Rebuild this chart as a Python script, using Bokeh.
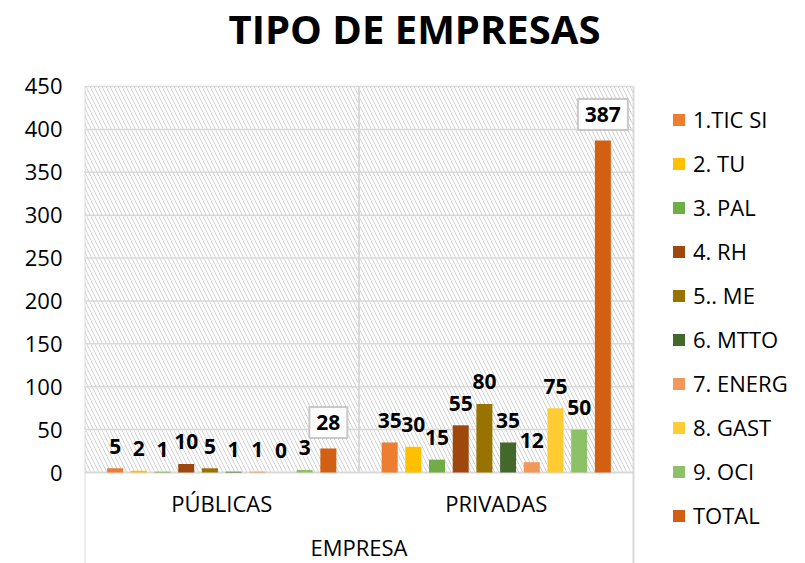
from bokeh.plotting import figure
from bokeh.models import (Range1d, FixedTicker, BoxAnnotation, Legend, LegendItem,
                          ColumnDataSource)
from bokeh.core.properties import value
from bokeh.embed import file_html
from bokeh.resources import INLINE

# ---------------- data ----------------
groups = ["PÚBLICAS", "PRIVADAS"]
series = ["1.TIC SI", "2. TU", "3. PAL", "4. RH", "5.. ME", "6. MTTO",
          "7. ENERG", "8. GAST", "9. OCI", "TOTAL"]
publicas = [5, 2, 1, 10, 5, 1, 1, 0, 3, 28]
privadas = [35, 30, 15, 55, 80, 35, 12, 75, 50, 387]
colors = ["#ED7D31", "#FFC000", "#70AD47", "#9E480E", "#997300", "#43682B",
          "#F1975A", "#FFCD33", "#8CC168", "#D26012"]
y_ticks = [0, 50, 100, 150, 200, 250, 300, 350, 400, 450]
x_title = "EMPRESA"
title = "TIPO DE EMPRESAS"

FONT = "Open Sans"
GRID = "#d9d9d9"

W, H = 805, 563
LEFT = 84                 # px, left of plot area
PX_PER_UNIT_X = 274.5     # px per category
PX_PER_UNIT_Y = 0.8578    # px per value unit
ZERO_Y = 472              # px of value 0 from top

Y_MAX_AX = y_ticks[-1]
y_lo = -(H - ZERO_Y) / PX_PER_UNIT_Y
y_hi = ZERO_Y / PX_PER_UNIT_Y
x_hi = (W - LEFT) / PX_PER_UNIT_X

p = figure(width=W, height=H, output_backend="svg", toolbar_location=None,
           x_range=Range1d(0, x_hi), y_range=Range1d(y_lo, y_hi),
           min_border_left=LEFT, min_border_right=0, min_border_top=0,
           min_border_bottom=0, outline_line_color=None)

p.xaxis.visible = False
p.xgrid.visible = False
p.ygrid.visible = False
p.yaxis.ticker = FixedTicker(ticks=y_ticks)
p.yaxis.axis_line_color = None
p.yaxis.major_tick_line_color = None
p.yaxis.minor_tick_line_color = None
p.yaxis.major_tick_out = 0
p.yaxis.major_tick_in = 0
p.yaxis.major_label_standoff = 22
p.yaxis.major_label_text_font = FONT
p.yaxis.major_label_text_font_size = "22px"
p.yaxis.major_label_text_color = "black"

n_groups = len(groups)

# hatched plot area
p.add_layout(BoxAnnotation(left=0, right=n_groups, bottom=0, top=Y_MAX_AX,
                           fill_color="white", fill_alpha=1, hatch_pattern="\\",
                           hatch_color="#d2d2d2", hatch_scale=8, hatch_weight=1,
                           line_color=None, level="underlay"))

# gridlines + top border
p.segment(x0=[0] * (len(y_ticks) - 1), x1=[n_groups] * (len(y_ticks) - 1),
          y0=y_ticks[1:], y1=y_ticks[1:], line_color=GRID, line_width=1.5)
# category axis line and table lines
p.segment(x0=[0, n_groups, 1, 0], y0=[y_lo, y_lo, 0, 0],
          x1=[0, n_groups, 1, n_groups], y1=[Y_MAX_AX, Y_MAX_AX, Y_MAX_AX, 0],
          line_color=GRID, line_width=2)

n = len(series)
step = 0.0863
bw = 0.0583
group_pos = [gi + 0.5 for gi in range(n_groups)]

items = []
for i, name in enumerate(series):
    off = (i - (n - 1) / 2) * step
    src = ColumnDataSource(dict(x=[g + off for g in group_pos],
                                top=[publicas[i], privadas[i]],
                                lab=[str(publicas[i]), str(privadas[i])]))
    r = p.vbar(x="x", top="top", width=bw, source=src, fill_color=colors[i],
               line_color=None)
    items.append(LegendItem(label=name, renderers=[r]))
    if name == "TOTAL":
        p.text(x="x", y="top", text="lab", source=src, text_align="center",
               text_baseline="middle", y_offset=-26, text_font=value(FONT),
               text_font_size="21px", text_font_style="bold", text_color="black",
               background_fill_color="white", border_line_color="#c8c8c8",
               border_line_width=2, padding=[7, 8])
    else:
        p.text(x="x", y="top", text="lab", source=src, text_align="center",
               text_baseline="alphabetic", y_offset=-22, text_font=value(FONT),
               text_font_size="21px", text_font_style="bold", text_color="black")

# category labels
p.text(x=group_pos, y=[-35, -35], text=groups, text_align="center",
       text_baseline="middle", text_font=value(FONT), text_font_size="22px",
       text_color="black")
p.text(x=[n_groups / 2], y=[-87], text=[x_title], text_align="center",
       text_baseline="middle", text_font=value(FONT), text_font_size="22px",
       text_color="black")

# chart title
p.text(x=[(414 - LEFT) / PX_PER_UNIT_X], y=[(ZERO_Y - 28) / PX_PER_UNIT_Y],
       text=[title], text_align="center", text_baseline="middle",
       text_font=value(FONT), text_font_size="40px", text_font_style="bold",
       text_color="black")

legend = Legend(items=items, location=(587, 33), glyph_width=15, glyph_height=15,
                label_text_font=FONT, label_text_font_size="22px",
                label_text_color="black", label_height=27, spacing=14,
                padding=0, margin=0, border_line_color=None,
                background_fill_alpha=0, label_standoff=7)
p.add_layout(legend, "center")

open("out.html", "w").write(file_html(p, INLINE))
